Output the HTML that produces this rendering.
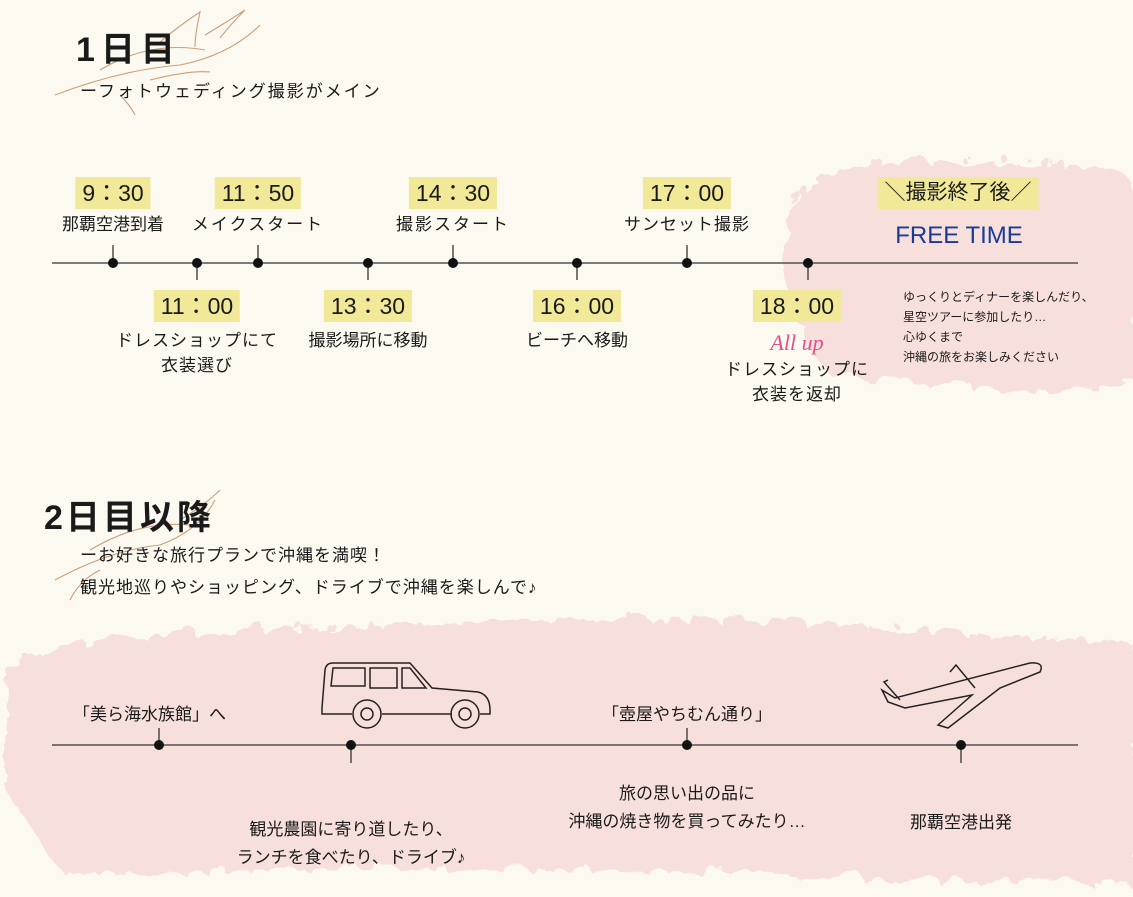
<!DOCTYPE html>
<html><head><meta charset="utf-8">
<style>
body{margin:0;width:1133px;height:897px;overflow:hidden;background:#fcf9f1;position:relative;font-family:"Liberation Sans","Noto Sans CJK JP",sans-serif;color:#1a1a1a}
.a{position:absolute;white-space:nowrap}
.c{transform:translateX(-50%);text-align:center}
.t{background:#f1e898;font-size:23px;height:32px;line-height:32px;padding:0 7px;top:0}
.l{font-size:17px;line-height:25px}
.h{font-weight:bold;font-size:34px;letter-spacing:6px}
</style></head><body>
<svg class="a" style="left:0;top:0" width="1133" height="897">
<defs><filter id="f"><feTurbulence baseFrequency="0.03" numOctaves="3" seed="3"/><feDisplacementMap in="SourceGraphic" scale="22"/></filter></defs>
<g fill="#f7e0dc" filter="url(#f)">
<path d="M790 190 Q820 160 880 155 L1100 160 Q1133 170 1133 200 L1133 370 Q1080 395 950 380 L830 375 Q800 340 790 300 Q770 250 790 190Z"/>
<path d="M0 660 Q60 640 150 630 L500 615 Q700 610 900 625 L1133 640 L1133 880 L900 875 Q600 860 250 865 L60 870 Q20 820 0 780Z"/>
</g>
<g fill="none" stroke="#c9a07a" stroke-width="1.1">
<path d="M55 95 Q120 70 180 65 Q230 55 260 25"/><path d="M100 70 Q150 40 205 50"/><path d="M160 42 Q180 25 200 12 Q195 35 195 47"/><path d="M205 35 Q230 20 245 10 Q230 25 220 38"/><path d="M150 80 Q190 70 210 72"/><path d="M120 95 Q130 105 135 115"/>
<path d="M55 580 Q110 550 160 545 Q200 530 215 500"/><path d="M90 550 Q140 520 190 525"/><path d="M180 520 Q205 505 220 490"/><path d="M70 600 Q80 580 100 570"/>
</g>
<g stroke="#333" stroke-width="1.3">
<line x1="52" y1="263" x2="1078" y2="263"/>
<line x1="113" y1="245" x2="113" y2="263"/><line x1="258" y1="245" x2="258" y2="263"/><line x1="453" y1="245" x2="453" y2="263"/><line x1="687" y1="245" x2="687" y2="263"/>
<line x1="197" y1="263" x2="197" y2="280"/><line x1="368" y1="263" x2="368" y2="280"/><line x1="577" y1="263" x2="577" y2="280"/><line x1="808" y1="263" x2="808" y2="280"/>
<line x1="52" y1="745" x2="1078" y2="745"/>
<line x1="159" y1="728" x2="159" y2="745"/><line x1="687" y1="728" x2="687" y2="745"/>
<line x1="351" y1="745" x2="351" y2="763"/><line x1="961" y1="745" x2="961" y2="763"/>
</g>
<g fill="#111">
<circle cx="113" cy="263" r="5"/><circle cx="197" cy="263" r="5"/><circle cx="258" cy="263" r="5"/><circle cx="368" cy="263" r="5"/><circle cx="453" cy="263" r="5"/><circle cx="577" cy="263" r="5"/><circle cx="687" cy="263" r="5"/><circle cx="808" cy="263" r="5"/>
<circle cx="159" cy="745" r="5"/><circle cx="351" cy="745" r="5"/><circle cx="687" cy="745" r="5"/><circle cx="961" cy="745" r="5"/>
</g>
<g fill="none" stroke="#222" stroke-width="1.5">
<path d="M322 708 L325 670 Q326 663 333 663 L410 663 L432 688 L478 692 Q490 695 490 710 L490 714 L480 714 M452 714 L382 714 M352 714 L322 714 L322 708"/>
<path d="M333 668 L365 668 L365 686 L331 686Z M370 668 L397 668 L397 688 L370 688Z M402 668 L410 668 L426 688 L402 688Z"/>
<circle cx="367" cy="714" r="14"/><circle cx="367" cy="714" r="6"/><circle cx="465" cy="714" r="14"/><circle cx="465" cy="714" r="6"/>
<path d="M882 690 L895 698 L1030 663 Q1045 662 1040 672 L1000 688 L948 728 L938 725 L972 695 L905 708 L888 702 Z"/>
<path d="M950 672 L956 665 L975 688 M888 680 L884 682 L900 700"/>
</g>
</svg>

<div class="a h" style="left:76px;top:22px">1日目</div>
<div class="a" style="left:80px;top:77px;font-size:17px;letter-spacing:2px">ーフォトウェディング撮影がメイン</div>

<div class="a c t" style="left:113px;top:177px">9：30</div>
<div class="a c l" style="left:113px;top:212px">那覇空港到着</div>
<div class="a c t" style="left:258px;top:177px">11：50</div>
<div class="a c l" style="left:258px;top:212px;letter-spacing:2px">メイクスタート</div>
<div class="a c t" style="left:453px;top:177px">14：30</div>
<div class="a c l" style="left:453px;top:212px;letter-spacing:2px">撮影スタート</div>
<div class="a c t" style="left:687px;top:177px">17：00</div>
<div class="a c l" style="left:687px;top:212px;letter-spacing:1px">サンセット撮影</div>
<div class="a c t" style="left:958px;top:177px;font-size:21px">＼撮影終了後／</div>
<div class="a c" style="left:959px;top:222px;font-size:24px;color:#1a3a9a">FREE TIME</div>

<div class="a c t" style="left:197px;top:290px">11：00</div>
<div class="a c l" style="left:197px;top:328px;letter-spacing:1px">ドレスショップにて<br>衣装選び</div>
<div class="a c t" style="left:368px;top:290px">13：30</div>
<div class="a c l" style="left:368px;top:328px">撮影場所に移動</div>
<div class="a c t" style="left:577px;top:290px">16：00</div>
<div class="a c l" style="left:577px;top:328px">ビーチへ移動</div>
<div class="a c t" style="left:797px;top:290px">18：00</div>
<div class="a c" style="left:797px;top:330px;font-size:22px;color:#e0508a;font-style:italic;font-family:'Liberation Serif',serif">All up</div>
<div class="a c l" style="left:797px;top:357px;letter-spacing:1px">ドレスショップに<br>衣装を返却</div>
<div class="a" style="left:903px;top:287px;font-size:12px;line-height:20px">ゆっくりとディナーを楽しんだり、<br>星空ツアーに参加したり…<br>心ゆくまで<br>沖縄の旅をお楽しみください</div>

<div class="a h" style="left:44px;top:490px;letter-spacing:3px">2日目以降</div>
<div class="a" style="left:80px;top:540px;font-size:17px;line-height:32px;letter-spacing:1px">ーお好きな旅行プランで沖縄を満喫！<br>観光地巡りやショッピング、ドライブで沖縄を楽しんで♪</div>

<div class="a" style="left:73px;top:700px;font-size:17px">「美ら海水族館」へ</div>
<div class="a c" style="left:687px;top:700px;font-size:17px">「壺屋やちむん通り」</div>
<div class="a c l" style="left:687px;top:780px;line-height:28px">旅の思い出の品に<br>沖縄の焼き物を買ってみたり…</div>
<div class="a c l" style="left:351px;top:816px;line-height:28px">観光農園に寄り道したり、<br>ランチを食べたり、ドライブ♪</div>
<div class="a c l" style="left:961px;top:810px">那覇空港出発</div>
</body></html>
